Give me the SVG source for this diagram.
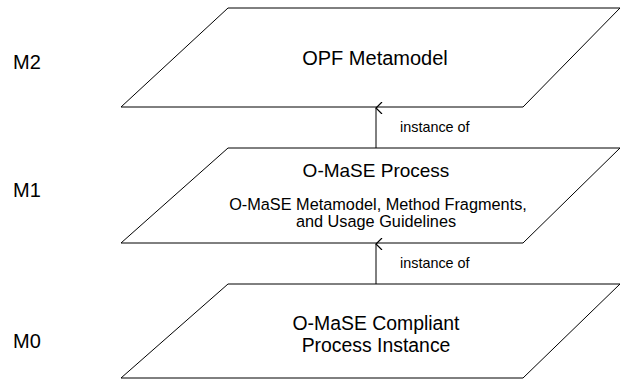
<svg xmlns="http://www.w3.org/2000/svg" width="621" height="381" viewBox="0 0 621 381">
<style>
.p{fill:#fff;stroke:#000;stroke-width:1}
text{font-family:"Liberation Sans",Arial,sans-serif;fill:#000}
.t{font-size:20px;text-anchor:middle}
.h{font-size:19px;text-anchor:middle}
.s{font-size:16.3px;text-anchor:middle}
.k{font-size:19.4px;text-anchor:middle}
.l{font-size:14.4px}
.m{font-size:20px}
.c{stroke:#000;stroke-width:1;fill:none}
</style>
<defs>
<marker id="a" markerWidth="12" markerHeight="12" refX="5" refY="1" orient="auto-start-reverse" markerUnits="userSpaceOnUse" viewBox="0 0 10 10">
<path d="M0,6 L5,1 L10,6" fill="none" stroke="#000" stroke-width="1"/>
</marker>
</defs>
<rect width="621" height="381" fill="#fff"/>
<g id="levels">
<text class="m" x="13" y="69">M2</text>
<text class="m" x="13" y="197">M1</text>
<text class="m" x="13" y="348">M0</text>
</g>
<g id="m2">
<polygon class="p" points="228,8 620,8 523,107 121,107"/>
<text class="t" x="375" y="65">OPF Metamodel</text>
</g>
<g id="m1">
<polygon class="p" points="228,148 620,148 523,243 121,243"/>
<text class="h" x="376" y="177">O-MaSE Process</text>
<text class="s" x="378" y="210">O-MaSE Metamodel, Method Fragments,</text>
<text class="s" x="376" y="227">and Usage Guidelines</text>
</g>
<g id="m0">
<polygon class="p" points="228,284 620,284 523,378 121,378"/>
<text class="k" x="376" y="330">O-MaSE Compliant</text>
<text class="k" x="376" y="352">Process Instance</text>
</g>
<g id="connectors">
<line class="c" x1="376" y1="148" x2="376" y2="108" marker-end="url(#a)"/>
<text class="l" x="400" y="132">instance of</text>
<line class="c" x1="376" y1="284" x2="376" y2="244" marker-end="url(#a)"/>
<text class="l" x="400" y="268">instance of</text>
</g>
</svg>
